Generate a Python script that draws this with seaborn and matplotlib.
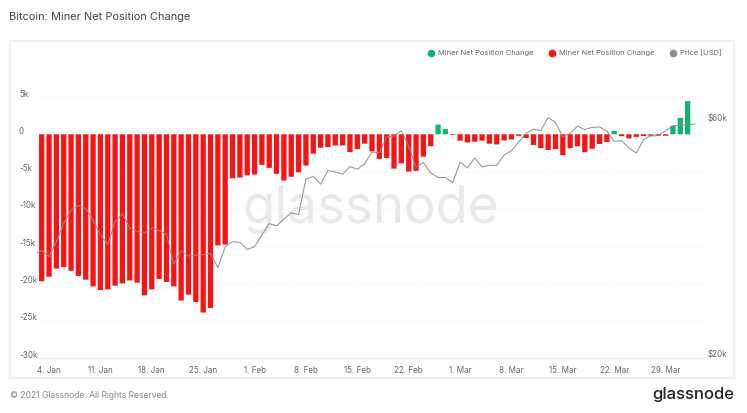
import matplotlib
matplotlib.use('Agg')
import matplotlib.pyplot as plt
import matplotlib.dates as mdates
from matplotlib.lines import Line2D
from matplotlib.patches import Rectangle
from matplotlib.transforms import ScaledTranslation
import seaborn as sns
import pandas as pd

# values, in thousands
net_change = [
    -19.7, -19.1, -18.0, -17.8, -18.3, -19.0, -19.5, -20.4, -20.9, -20.8,
    -20.3, -20.0, -19.6, -19.9, -21.6, -20.8, -19.4, -19.8, -20.4, -22.3,
    -21.5, -22.5, -23.9, -23.3, -14.9, -14.8, -5.9, -5.8, -5.5, -5.4,
    -4.1, -4.5, -5.3, -6.2, -5.7, -5.1, -4.2, -2.6, -1.8, -1.7,
    -1.5, -1.5, -2.4, -2.0, -1.25, -2.3, -3.3, -3.2, -4.6, -3.9,
    -5.0, -4.9, -3.0, -1.6, 1.3, 0.7, -0.1, -0.85, -1.1, -1.0,
    -0.85, -1.27, -1.36, -0.83, -0.7, -0.2, -0.5, -1.45, -1.85, -2.1,
    -2.0, -2.8, -1.85, -1.6, -2.4, -1.95, -1.3, -1.05, 0.45, -0.25,
    -0.55, -0.35, -0.25, -0.2, -0.2, -0.2, 1.15, 2.2, 4.45,
]
price = [
    32.4, 32.9, 32.0, 34.3, 37.3, 39.7, 40.6, 40.0, 37.9, 35.4,
    33.9, 37.6, 39.1, 36.5, 36.0, 35.7, 36.6, 36.1, 35.5, 30.9,
    32.9, 32.1, 32.2, 32.3, 32.5, 30.4, 33.5, 34.3, 34.2, 33.1,
    33.5, 35.4, 37.3, 36.9, 38.1, 39.2, 38.9, 45.9, 46.4, 44.8,
    47.7, 47.4, 46.9, 48.6, 48.0, 49.2, 52.0, 51.8, 55.8, 56.0,
    57.4, 53.4, 48.5, 49.5, 47.2, 46.2, 46.2, 45.1, 49.6, 48.3,
    50.6, 48.5, 48.9, 48.9, 51.3, 52.3, 54.5, 56.7, 57.8, 57.4,
    61.0, 59.6, 55.8, 56.7, 58.6, 57.7, 58.3, 58.4, 57.3, 54.6,
    54.8, 53.0, 51.7, 55.1, 56.0, 56.1, 57.4, 58.7, 58.9, 59.0,
    59.2,
]
y_ticks = [5, 0, -5, -10, -15, -20, -25, -30]
y_labels = ['5k', '0', '-5k', '-10k', '-15k', '-20k', '-25k', '-30k']
x_labels = ['4. Jan', '11. Jan', '18. Jan', '25. Jan', '1. Feb', '8. Feb', '15. Feb',
            '22. Feb', '1. Mar', '8. Mar', '15. Mar', '22. Mar', '29. Mar']

GREEN = '#0fb56d'
RED = '#f71414'
GREY = '#8c8c8c'
TXT = '#666666'

sns.set_theme(style='white')
plt.rcParams['font.family'] = ['Inter', 'DejaVu Sans']

W, H = 747, 413
fig = plt.figure(figsize=(W / 100, H / 100), dpi=100, facecolor='white')
ax = fig.add_axes([37 / W, (H - 358) / H, 668 / W, 261 / H])

bars = pd.DataFrame({
    'date': mdates.date2num(pd.date_range('2021-01-03', periods=len(net_change))),
    'change': net_change,
})
bars['side'] = ['up' if v > 0 else 'down' for v in net_change]
lines = pd.DataFrame({
    'date': mdates.date2num(pd.date_range('2021-01-02', periods=len(price))),
    'price': price,
})

sns.barplot(data=bars, x='date', y='change', hue='side', palette={'up': GREEN, 'down': RED},
            native_scale=True, dodge=False, width=0.72, saturation=1, errorbar=None, legend=False,
            linewidth=0, zorder=3, ax=ax)
for p in ax.patches:
    p.set_snap(False)

x0 = mdates.date2num(pd.Timestamp('2021-01-03'))
ax.set_xlim(x0 - 4.7 / 7.34, x0 + 663.3 / 7.34)
ax.set_ylim(-30, 5)
ax.set_xlabel('')
ax.set_ylabel('')
ax.set_yticks(y_ticks)
ax.set_yticklabels(y_labels, ha='left', va='bottom', fontsize=5.8, color=TXT)
ax.tick_params(axis='y', length=0, pad=13)
ax.set_xticks(mdates.date2num(pd.date_range('2021-01-04', periods=len(x_labels), freq='7D')))
ax.set_xticklabels(x_labels, fontsize=5.8, color=TXT)
ax.tick_params(axis='x', length=2, width=0.5, color='#e6e6e6', pad=4)
ax.grid(axis='y', color='#ececec', lw=0.6, ls=':', zorder=0)
ax.set_axisbelow(True)
for side in ['top', 'left', 'right']:
    ax.spines[side].set_visible(False)
ax.spines['bottom'].set_color('#ececec')
ax.spines['bottom'].set_linewidth(0.8)

ax.text(0.5, 0.57, 'glassnode', transform=ax.transAxes, ha='center', va='center',
        fontsize=38, color='#e9e9e9', zorder=1)

# price sits on its own log axis
ax2 = ax.twinx()
sns.lineplot(data=lines, x='date', y='price', color=GREY, lw=0.7, ax=ax2)
ax2.set_yscale('log')
ax2.set_ylim(20, 67.1)
ax2.set_xlim(ax.get_xlim())
ax2.set_ylabel('')
ax2.set_yticks([20, 60])
ax2.set_yticklabels(['$20k', '$60k'], ha='left', va='bottom', fontsize=5.8, color=TXT)
ax2.minorticks_off()
ax2.tick_params(axis='y', length=0, pad=1.5)
for side in ['top', 'left', 'right', 'bottom']:
    ax2.spines[side].set_visible(False)

# labels in the original sit a little above the gridlines
nudge = ScaledTranslation(0, -1.5 / 100, fig.dpi_scale_trans)
for lab in ax.get_yticklabels() + ax2.get_yticklabels():
    lab.set_transform(lab.get_transform() + nudge)

handles = [Line2D([], [], ls='', marker='o', ms=4.5, color=c) for c in [GREEN, RED, GREY]]
fig.legend(handles, ['Miner Net Position Change', 'Miner Net Position Change', 'Price [USD]'],
           ncol=3, frameon=False, loc='center right', bbox_to_anchor=(722 / W, 1 - 53 / H),
           fontsize=5.45, labelcolor=TXT, handlelength=0.8, handletextpad=0.5, columnspacing=2.1,
           borderpad=0, borderaxespad=0)

fig.add_artist(Rectangle((10 / W, 1 - 378 / H), 724 / W, 337 / H, transform=fig.transFigure,
                         fill=False, edgecolor='#efefef', lw=1.2))
fig.text(9 / W, 1 - 17 / H, 'Bitcoin: Miner Net Position Change', fontsize=7.9, color='#444444',
         va='center', ha='left')
fig.text(10 / W, 1 - 396 / H, '© 2021 Glassnode. All Rights Reserved.', fontsize=6.2,
         color='#8a8a8a', va='center', ha='left')
fig.text(734 / W, 1 - 394 / H, 'glassnode', fontsize=12, color='#222222', va='center', ha='right',
         fontweight='medium')

fig.savefig('out.png', dpi=100)
